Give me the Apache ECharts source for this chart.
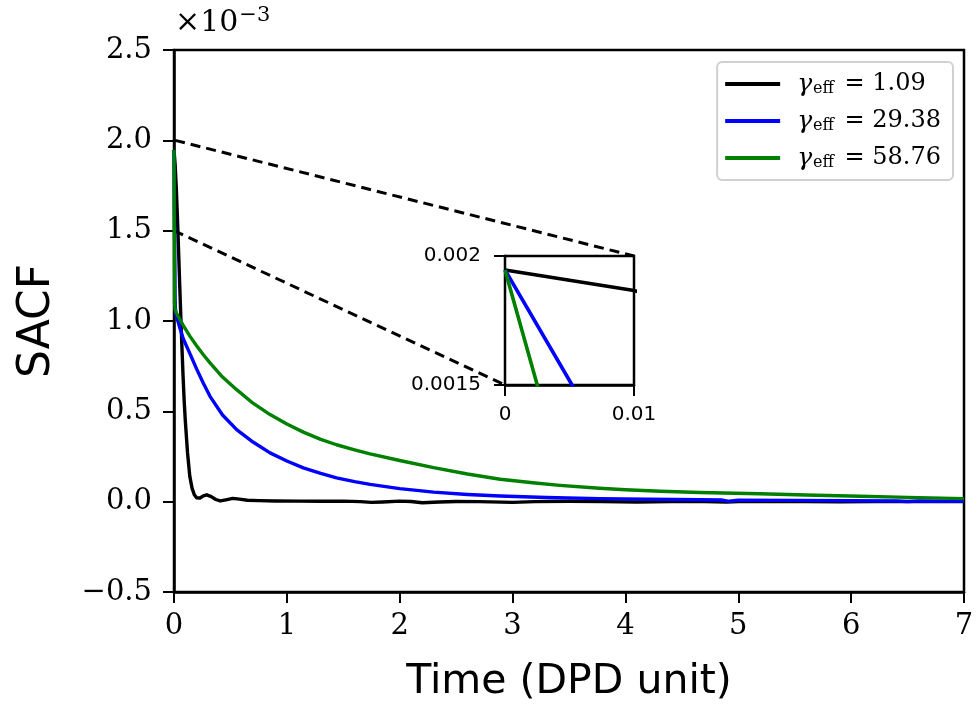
<!DOCTYPE html>
<html>
<head>
<meta charset="utf-8">
<script src="https://cdn.jsdelivr.net/npm/echarts@6/dist/echarts.min.js"></script>
<style>
  html, body { margin: 0; padding: 0; background: #fff; }
  #main { width: 977px; height: 717px; }
</style>
</head>
<body>
<div id="main"></div>
<script>
// SACF in units of 1e-3, time in DPD units
const gammaLabels = ['1.09', '29.38', '58.76'];
const lineColors = ['#000000', '#0000ff', '#008000'];

const timeBlack = [0, 0.01, 0.02, 0.03, 0.04, 0.05, 0.06, 0.07, 0.08, 0.09,
  0.10, 0.12, 0.14, 0.16, 0.18, 0.20, 0.23, 0.26, 0.29, 0.33,
  0.37, 0.41, 0.46, 0.52, 0.58, 0.65, 0.75, 0.9, 1.1, 1.3,
  1.5, 1.65, 1.75, 1.85, 2.0, 2.1, 2.2, 2.35, 2.5, 2.7,
  3.0, 3.2, 3.5, 3.8, 4.1, 4.4, 4.7, 4.9, 5.0, 5.3,
  5.6, 5.9, 6.2, 6.5, 6.8, 7.0];
const sacfBlack = [1.946, 1.866, 1.74, 1.58, 1.40, 1.21, 1.03, 0.86, 0.70, 0.56,
  0.45, 0.27, 0.14, 0.075, 0.038, 0.022, 0.02, 0.032, 0.038, 0.028,
  0.012, 0.004, 0.01, 0.018, 0.014, 0.008, 0.006, 0.004, 0.003, 0.002,
  0.003, 0.0, -0.004, -0.002, 0.003, 0.001, -0.006, -0.002, 0.001, 0.0,
  -0.004, 0.0, 0.002, 0.0, -0.002, 0.001, 0.0, -0.002, 0.001, 0.0,
  0.001, -0.001, 0.0, 0.001, 0.0, 0.0];

const timeBlue = [0, 0.0052, 0.01, 0.015, 0.025, 0.05, 0.083, 0.142, 0.2, 0.26,
  0.319, 0.43, 0.555, 0.7, 0.851, 1.0, 1.146, 1.3, 1.44, 1.6,
  1.737, 2.0, 2.3, 2.6, 2.89, 3.3, 3.77, 4.2, 4.66, 4.85,
  4.92, 5.0, 5.5, 6.0, 6.4, 6.5, 6.6, 7.0];
const sacfBlue = [1.946, 1.5, 1.1, 1.045, 1.02, 0.965, 0.9, 0.818, 0.735, 0.656,
  0.583, 0.48, 0.399, 0.33, 0.27, 0.225, 0.187, 0.156, 0.132, 0.111,
  0.096, 0.072, 0.053, 0.04, 0.031, 0.023, 0.017, 0.013, 0.011, 0.009,
  0.002, 0.008, 0.007, 0.005, 0.004, 0.0, 0.004, 0.002];

const timeGreen = [0, 0.0025, 0.005, 0.01, 0.02, 0.05, 0.083, 0.142, 0.2, 0.26,
  0.319, 0.43, 0.555, 0.7, 0.851, 1.0, 1.146, 1.3, 1.44, 1.6,
  1.737, 2.0, 2.3, 2.6, 2.89, 3.2, 3.42, 3.77, 4.0, 4.31,
  4.66, 5.19, 5.6, 6.08, 6.5, 7.0];
const sacfGreen = [1.946, 1.5, 1.1, 1.065, 1.045, 1.011, 0.975, 0.915, 0.863, 0.813,
  0.768, 0.69, 0.62, 0.545, 0.482, 0.43, 0.385, 0.345, 0.315, 0.287,
  0.265, 0.228, 0.188, 0.153, 0.124, 0.103, 0.09, 0.074, 0.066, 0.058,
  0.051, 0.044, 0.037, 0.03, 0.024, 0.017];

// zoomed window shown in the inset
const zoomX = [0, 0.01];
const zoomY = [1.5, 2.0];

const times = [timeBlack, timeBlue, timeGreen];
const values = [sacfBlack, sacfBlue, sacfGreen];

function zip(xs, ys) {
  return xs.map((x, i) => [x, ys[i]]);
}

const chart = echarts.init(document.getElementById('main'));

const series = [];
for (let i = 0; i < 3; i++) {
  series.push({
    name: gammaLabels[i],
    type: 'line',
    xAxisIndex: 0,
    yAxisIndex: 0,
    data: zip(times[i], values[i]),
    symbol: 'none',
    smooth: false,
    lineStyle: { color: lineColors[i], width: 3.4, join: 'round' },
    itemStyle: { color: lineColors[i] }
  });
}
for (let i = 0; i < 3; i++) {
  series.push({
    name: 'inset' + i,
    type: 'line',
    xAxisIndex: 1,
    yAxisIndex: 1,
    data: zip(times[i], values[i]),
    symbol: 'none',
    clip: true,
    lineStyle: { color: lineColors[i], width: 3.6 },
    z: 10
  });
}

const serif = 'DejaVu Serif';
const sans = 'DejaVu Sans';

const option = {
  animation: false,
  backgroundColor: '#fff',
  grid: [
    { left: 174, right: 13, top: 50, bottom: 125, show: true, borderColor: '#000', borderWidth: 2.5, backgroundColor: 'transparent' },
    { left: 505, top: 256, width: 129, height: 129, show: true, borderColor: '#000', borderWidth: 2.5, backgroundColor: '#fff', z: 5 }
  ],
  legend: {
    data: gammaLabels,
    orient: 'vertical',
    right: 24,
    top: 62,
    padding: [9, 12, 9, 8],
    itemGap: 11,
    itemWidth: 55,
    itemHeight: 4,
    icon: 'rect',
    borderColor: '#d0d0d0',
    borderWidth: 2,
    borderRadius: 5,
    backgroundColor: 'rgba(255,255,255,0.85)',
    formatter: name => '{g|γ}{s|eff}{t| = ' + name + '}',
    textStyle: {
      fontFamily: serif,
      fontSize: 24,
      color: '#000',
      rich: {
        g: { fontFamily: serif, fontStyle: 'italic', fontSize: 25, color: '#000', padding: [0, 0, 0, 12], lineHeight: 25 },
        s: { fontFamily: serif, fontSize: 16, color: '#000', padding: [10, 3, 0, 1], lineHeight: 25 },
        t: { fontFamily: serif, fontSize: 24, color: '#000', lineHeight: 25 }
      }
    }
  },
  xAxis: [
    {
      type: 'value', gridIndex: 0, min: 0, max: 7, interval: 1,
      name: 'Time (DPD unit)', nameLocation: 'middle', nameGap: 70,
      nameTextStyle: { fontFamily: sans, fontSize: 41, color: '#000' },
      axisLine: { show: true, onZero: false, lineStyle: { color: '#000', width: 2.5 } },
      axisTick: { show: true, length: 11, lineStyle: { color: '#000', width: 2 } },
      axisLabel: { fontFamily: serif, fontSize: 29, color: '#000', margin: 20, showMinLabel: true, showMaxLabel: true },
      splitLine: { show: false }
    },
    {
      type: 'value', gridIndex: 1, min: zoomX[0], max: zoomX[1], interval: 0.01,
      axisLine: { show: true, onZero: false, lineStyle: { color: '#000', width: 2.5 } },
      axisTick: { show: true, length: 11, lineStyle: { color: '#000', width: 2 } },
      axisLabel: { fontFamily: sans, fontSize: 20, color: '#000', margin: 20, showMinLabel: true, showMaxLabel: true },
      splitLine: { show: false }
    }
  ],
  yAxis: [
    {
      type: 'value', gridIndex: 0, min: -0.5, max: 2.5, interval: 0.5,
      name: 'SACF', nameLocation: 'middle', nameGap: 114, nameRotate: 90,
      nameTextStyle: { fontFamily: sans, fontSize: 44, color: '#000' },
      axisLine: { show: true, onZero: false, lineStyle: { color: '#000', width: 2.5 } },
      axisTick: { show: true, length: 11, lineStyle: { color: '#000', width: 2 } },
      axisLabel: {
        fontFamily: serif, fontSize: 29, color: '#000', margin: 22,
        formatter: v => v.toFixed(1).replace('-', '\u2212')
      },
      splitLine: { show: false }
    },
    {
      type: 'value', gridIndex: 1, min: zoomY[0], max: zoomY[1], interval: 0.5,
      axisLine: { show: true, onZero: false, lineStyle: { color: '#000', width: 2.5 } },
      axisTick: { show: true, length: 11, lineStyle: { color: '#000', width: 2 } },
      axisLabel: {
        fontFamily: sans, fontSize: 20, color: '#000', margin: 24,
        formatter: v => String(+(v / 1000).toPrecision(3))
      },
      splitLine: { show: false }
    }
  ],
  graphic: [
    {
      id: 'offset', type: 'text', left: 175, top: 5,
      style: {
        text: '{a|×10}{b|−3}',
        rich: {
          a: { fontFamily: serif, fontSize: 30, fill: '#000' },
          b: { fontFamily: serif, fontSize: 21, fill: '#000', padding: [0, 0, 16, 1] }
        }
      }
    }
  ],
  series: series
};

chart.setOption(option);

// connector lines between the zoomed window and the inset (mark_inset style)
const a1 = chart.convertToPixel({ gridIndex: 0 }, [zoomX[1], zoomY[1]]);
const b1 = chart.convertToPixel({ gridIndex: 1 }, [zoomX[1], zoomY[1]]);
const a2 = chart.convertToPixel({ gridIndex: 0 }, [zoomX[0], zoomY[0]]);
const b2 = chart.convertToPixel({ gridIndex: 1 }, [zoomX[0], zoomY[0]]);
const dash = { stroke: '#000', lineWidth: 3, lineDash: [10, 6] };
chart.setOption({
  graphic: [
    { id: 'c1', type: 'line', z: 1, shape: { x1: a1[0], y1: a1[1], x2: b1[0], y2: b1[1] }, style: dash },
    { id: 'c2', type: 'line', z: 1, shape: { x1: a2[0], y1: a2[1], x2: b2[0], y2: b2[1] }, style: dash }
  ]
});
</script>
</body>
</html>
